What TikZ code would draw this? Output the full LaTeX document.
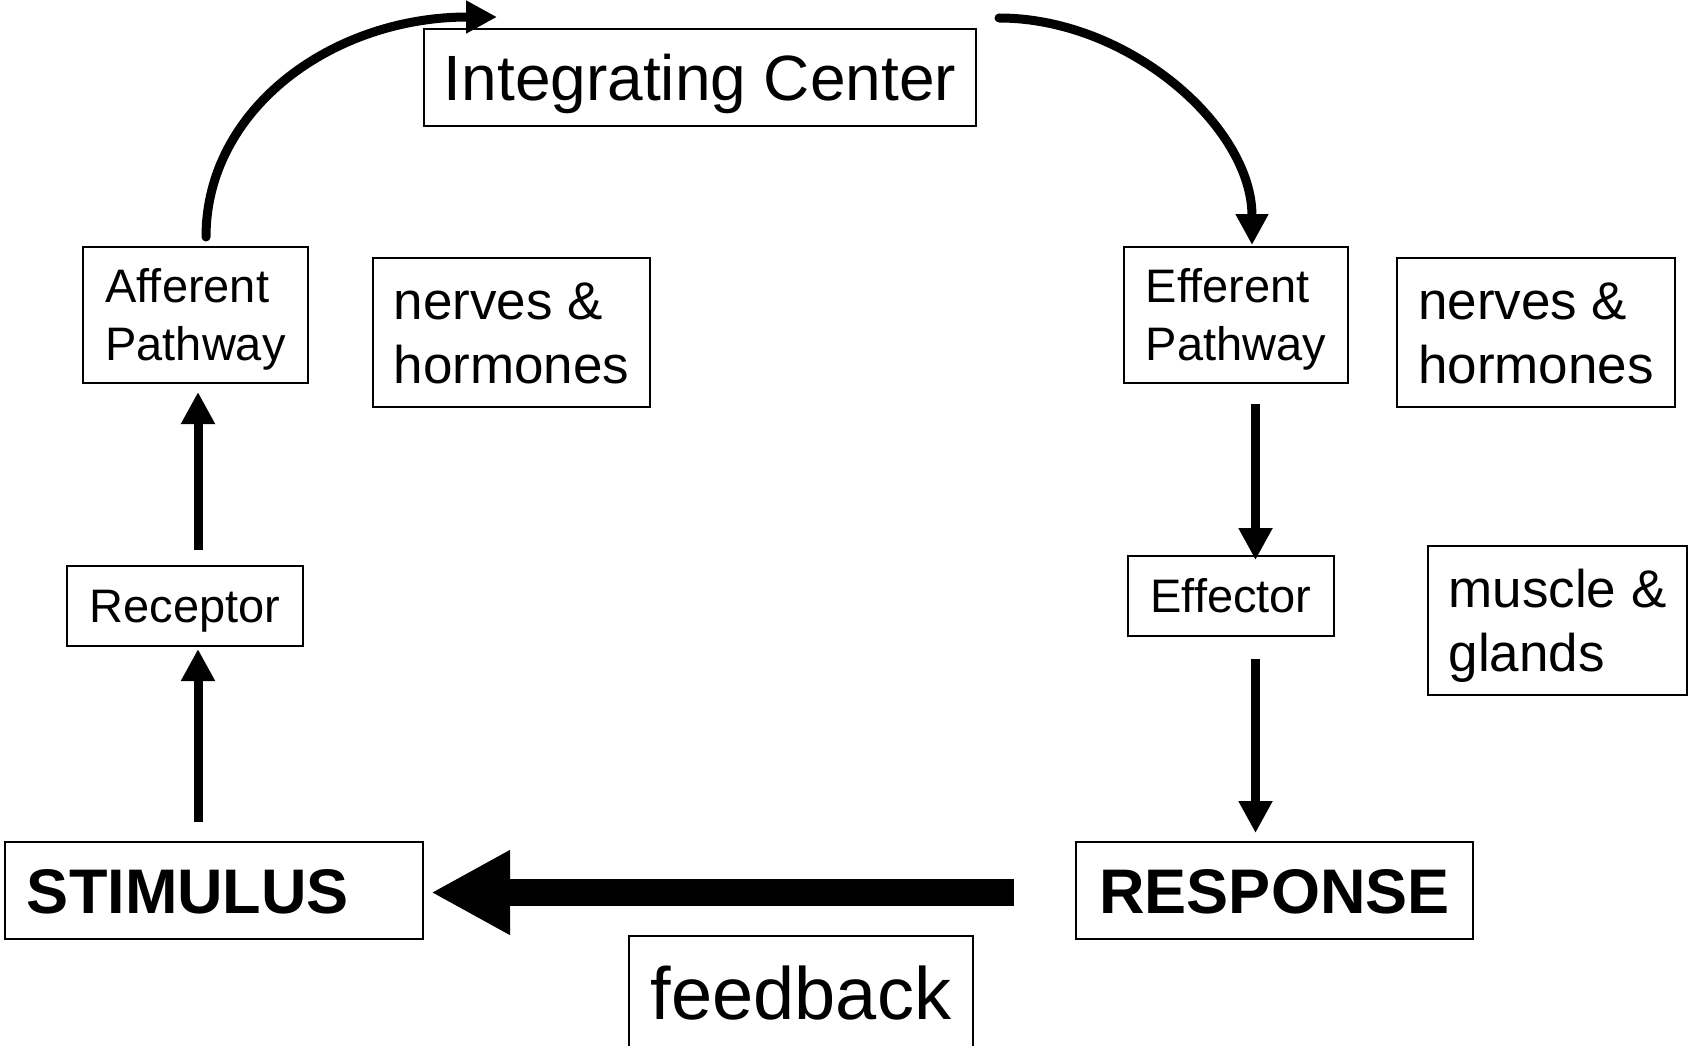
\documentclass[tikz,border=0pt]{standalone}
\usepackage{fontspec}
\setmainfont{Liberation Sans}
\usetikzlibrary{arrows.meta,calc}

% two left-aligned lines; the box baseline sits on the last line
\newcommand{\twolines}[2]{\vbox{\hbox{#1}\hbox{#2}}}

\tikzset{
  box/.style={draw, line width=2pt, inner sep=0pt, rectangle},
  smalltxt/.style={font=\fontsize{47}{58}\selectfont},
  midtxt/.style={font=\fontsize{53}{64}\selectfont},
  arr/.style={line width=9pt, -{Triangle[length=32pt,width=32pt]}},
  curvearr/.style={line width=9pt, line cap=round, -{Triangle[length=31pt,width=31pt]}},
  bigarr/.style={line width=27pt, -{Triangle[length=79pt,width=79pt]}},
}

\begin{document}
\begin{tikzpicture}[x=1pt,y=-1pt]
\useasboundingbox (0,0) rectangle (1691,1046);

% central loop boxes
\node[box, minimum width=552pt, minimum height=97pt,
      font=\fontsize{64}{70}\selectfont, text height=45.8pt, text depth=0pt]
      (ic) at (700,77.5) {Integrating Center};

\node[box, smalltxt, minimum width=225pt, minimum height=136pt,
      text height=91.7pt, text depth=0pt]
      (aff) at (195.5,315) {\twolines{Afferent}{Pathway}};
\node[box, midtxt, minimum width=277pt, minimum height=149pt,
      text height=102pt, text depth=0pt]
      (nhl) at (511.5,332.5) {\twolines{nerves \&}{hormones}};
\node[box, smalltxt, minimum width=236pt, minimum height=80pt,
      text height=33.7pt, text depth=0pt]
      (rec) at (185,606) {Receptor};

\node[box, minimum width=418pt, minimum height=97pt,
      font=\fontsize{63}{70}\selectfont\bfseries, text height=45.1pt, text depth=0pt]
      (stim) at (214,890.5) {\hbox to 374pt{STIMULUS\hfil}};
\node[box, minimum width=397pt, minimum height=97pt,
      font=\fontsize{63}{70}\selectfont\bfseries, text height=45.1pt, text depth=0pt]
      (resp) at (1274.5,890.5) {RESPONSE};
\node[box, minimum width=344pt, minimum height=114pt,
      font=\fontsize{74}{80}\selectfont, text height=53pt, text depth=0pt]
      (fb) at (801,993) {feedback};

\node[box, smalltxt, minimum width=224pt, minimum height=136pt,
      text height=91.7pt, text depth=0pt]
      (eff) at (1236,315) {\twolines{Efferent}{Pathway}};
\node[box, midtxt, minimum width=278pt, minimum height=149pt,
      text height=102pt, text depth=0pt]
      (nhr) at (1536,332.5) {\twolines{nerves \&}{hormones}};
\node[box, smalltxt, minimum width=206pt, minimum height=80pt,
      text height=33.7pt, text depth=0pt]
      (effr) at (1231,596) {Effector};
\node[box, midtxt, minimum width=259pt, minimum height=149pt,
      text height=102pt, text depth=0pt]
      (mg) at (1557.5,620) {\twolines{muscle \&}{glands}};

% afferent side
\draw[arr] ($(stim.north -| aff.south)+(2.5,-19)$) -- ($(rec.south -| aff.south)+(2.5,2)$);
\draw[arr] ($(rec.north -| aff.south)+(2.5,-15)$) -- ($(aff.south)+(2.5,8)$);

% curved connectors through the integrating center
\draw[curvearr] ($(aff.north)+(10.5,-9)$)
   .. controls +(0,-128) and +(-165,0) .. ($(ic.north west)+(74,-11)$);
\draw[curvearr] ($(ic.north east)+(22,-10)$)
   .. controls +(130,0) and +(0,-118) .. ($(eff.north)+(16,-1)$);

% efferent side
\draw[arr] ($(eff.south)+(19.5,20)$) -- ($(effr.north -| eff.south)+(19.5,5)$);
\draw[arr] ($(effr.south -| eff.south)+(19.5,22)$) -- ($(resp.north -| eff.south)+(19.5,-8)$);

% feedback
\draw[bigarr] ($(resp.west)+(-61,2)$) -- ($(stim.east)+(7,2)$);
\end{tikzpicture}
\end{document}
